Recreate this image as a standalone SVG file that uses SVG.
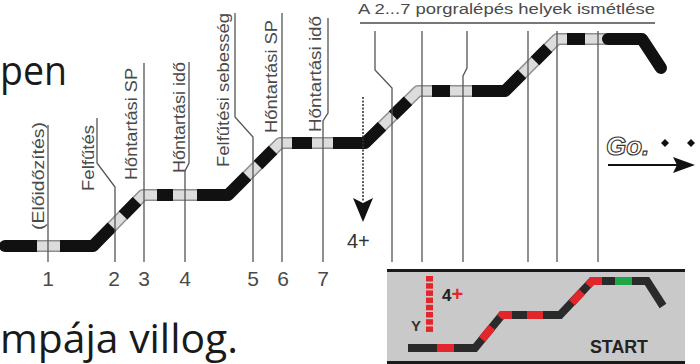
<svg xmlns="http://www.w3.org/2000/svg" width="700" height="364" viewBox="0 0 700 364">
<style>
.bg{font-family:"Open Sans","Noto Sans",sans-serif;font-size:40px;fill:#1a1a1a}
.lbl{font-family:"Liberation Sans",Arial,sans-serif;font-size:17px;fill:#4a4a4a}
.num{font-family:"Liberation Sans",Arial,sans-serif;font-size:21px;fill:#4a4a4a;text-anchor:middle}
.vl{fill:none;stroke:#555;stroke-width:1.3}
.outer{fill:none;stroke:#8e8e8e;stroke-width:12;stroke-linejoin:round}
.inner{fill:none;stroke:#dcdcdc;stroke-width:9;stroke-linejoin:round}
.blk{fill:none;stroke:#111;stroke-width:12;stroke-linejoin:round}
.trk{fill:none;stroke:#2a2a2a;stroke-width:8;stroke-linejoin:miter}
.red{fill:none;stroke:#e3262b;stroke-width:8;stroke-linejoin:miter}
.bold{font-family:"Liberation Sans",Arial,sans-serif;font-weight:bold}
</style>

<g id="background-text">
<text class="bg" x="0" y="85" textLength="67" lengthAdjust="spacingAndGlyphs">pen</text>
<text class="bg" x="0" y="353" style="font-size:41px" textLength="238" lengthAdjust="spacingAndGlyphs">mpája villog.</text>
</g>

<g id="profile">
<path class="outer" d="M5,246 H93 L143,195 H228 L280,143 H365 L418,91 H505 L557,39 H642 L661,68"/>
<path class="inner" d="M5,246 H93 L143,195 H228 L280,143 H365 L418,91 H505 L557,39 H642 L661,68"/>
<circle cx="5" cy="246" r="6" fill="#111"/>
<path class="blk" d="M5,246 H37"/>
<path class="blk" d="M60,246 H93 L112,226.6"/>
<path class="blk" d="M123,215.4 L137,201.1"/>
<path class="blk" d="M157,195 H173"/>
<path class="blk" d="M197,195 H228 L247,176"/>
<path class="blk" d="M258,165 L273,150"/>
<path class="blk" d="M292,143 H312"/>
<path class="blk" d="M333,143 H365 L382,126.3"/>
<path class="blk" d="M393,115.5 L408,100.8"/>
<path class="blk" d="M432,91 H450"/>
<path class="blk" d="M472,91 H505 L522,74"/>
<path class="blk" d="M535,61 L548,48"/>
<path class="blk" d="M567,39 H585"/>
<path class="blk" d="M608,39 H642 L661,68" stroke-linecap="round"/>
</g>

<g id="connectors">
<path class="vl" d="M48,125 V262"/>
<path class="vl" d="M97,118 V163 L115,187 V262"/>
<path class="vl" d="M144,63 V262"/>
<path class="vl" d="M189,62 V163 L185,171 V262"/>
<path class="vl" d="M235,13 V117 L253,137 V262"/>
<path class="vl" d="M282,13 V262"/>
<path class="vl" d="M328,18 V113 L323,121 V262"/>
<path class="vl" d="M375,31 V70 L392,88 V262"/>
<path class="vl" d="M422,31 V262"/>
<path class="vl" d="M467,31 V68 L463,76 V262"/>
<path class="vl" d="M528,31 V262"/>
<path class="vl" d="M557,31 V262"/>
<path class="vl" d="M598,31 V262"/>
<path d="M360,23 H655" stroke="#777" stroke-width="2"/>
<path d="M363,97 V202" stroke="#333" stroke-width="1.6" stroke-dasharray="2,1.5"/>
<polygon points="353,198 363,203 373,198 363,222" fill="#111"/>
<path d="M608,165 H680" stroke="#111" stroke-width="2"/>
<polygon points="673,157 695,165 673,173 677,165" fill="#111"/>
</g>

<g id="labels">
<g id="step1"><text class="lbl" transform="translate(43.5,230) rotate(-90)" textLength="108" lengthAdjust="spacingAndGlyphs">(Előidőzítés)</text><text class="num" x="48" y="286">1</text></g>
<g id="step2"><text class="lbl" transform="translate(94,191) rotate(-90)" textLength="66" lengthAdjust="spacingAndGlyphs">Felfűtés</text><text class="num" x="114" y="286">2</text></g>
<g id="step3"><text class="lbl" transform="translate(137,180) rotate(-90)" textLength="112" lengthAdjust="spacingAndGlyphs">Hőntartási SP</text><text class="num" x="144" y="286">3</text></g>
<g id="step4"><text class="lbl" transform="translate(185,173) rotate(-90)" textLength="111" lengthAdjust="spacingAndGlyphs">Hőntartási idő</text><text class="num" x="185" y="286">4</text></g>
<g id="step5"><text class="lbl" transform="translate(229,167) rotate(-90)" textLength="154" lengthAdjust="spacingAndGlyphs">Felfűtési sebesség</text><text class="num" x="253" y="286">5</text></g>
<g id="step6"><text class="lbl" transform="translate(277,133) rotate(-90)" textLength="113" lengthAdjust="spacingAndGlyphs">Hőntartási SP</text><text class="num" x="283" y="286">6</text></g>
<g id="step7"><text class="lbl" transform="translate(321,132) rotate(-90)" textLength="116" lengthAdjust="spacingAndGlyphs">Hőntartási idő</text><text class="num" x="323" y="286">7</text></g>
<g id="repeat"><text class="lbl" x="358" y="14" style="font-size:15.5px" textLength="297" lengthAdjust="spacingAndGlyphs">A 2...7 porgralépés helyek ismétlése</text></g>
<g id="hold"><text class="lbl" x="347" y="248" style="font-size:20px;fill:#333">4+</text></g>
<g id="go">
<text class="bold" x="606" y="155" font-size="26" font-style="italic" fill="#fff" stroke="#333" stroke-width="1.1">Go.</text>
<polygon points="665,139 669,143 665,147 661,143" fill="#111"/>
<polygon points="691,139 695,143 691,147 687,143" fill="#111"/>
</g>
</g>

<g id="panel">
<rect x="387" y="270" width="298" height="92" fill="#c9c9c9"/>
<path d="M387,270.5 H685" stroke="#1a1a1a" stroke-width="3"/>
<path d="M387,362.5 H685" stroke="#1a1a1a" stroke-width="3"/>
<path class="trk" d="M408,348 H475 L502,315 H560 L592,281 H647 L663,306"/>
<path class="red" d="M437,348 H454"/>
<path class="red" d="M482,339.4 L492,327.2"/>
<path class="red" d="M500,317.4 L502,315 H512"/>
<path class="red" d="M527,315 H543"/>
<path class="red" d="M572,302.9 L582,292"/>
<path class="red" d="M588,285.4 L592,281 H602"/>
<path d="M615,281 H632" stroke="#1ea64b" stroke-width="8"/>
<g fill="#e3262b">
<rect x="426" y="276" width="7" height="5.5"/>
<rect x="426" y="283.2" width="7" height="5.5"/>
<rect x="426" y="290.4" width="7" height="5.5"/>
<rect x="426" y="297.6" width="7" height="5.5"/>
<rect x="426" y="304.8" width="7" height="5.5"/>
<rect x="426" y="312" width="7" height="5.5"/>
<rect x="426" y="319.2" width="7" height="5.5"/>
<rect x="426" y="326.4" width="7" height="5.5"/>
</g>
<text class="bold" x="411" y="331" font-size="15" fill="#333">Y</text>
<text class="bold" x="442" y="301" font-size="17" fill="#222">4<tspan fill="#e3262b" font-size="20">+</tspan></text>
<text class="bold" x="590" y="353" font-size="18" fill="#222" textLength="58" lengthAdjust="spacingAndGlyphs">START</text>
</g>
</svg>
